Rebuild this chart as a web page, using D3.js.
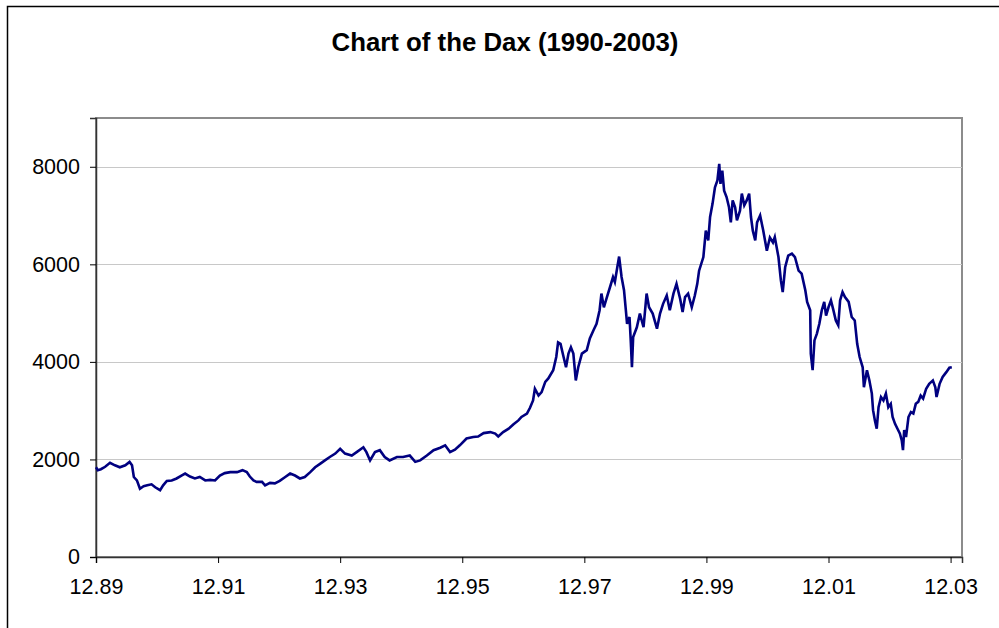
<!DOCTYPE html>
<html>
<head>
<meta charset="utf-8">
<script src="https://cdn.jsdelivr.net/npm/d3@7"></script>
<style>
  body { margin: 0; background: #fff; }
  svg text { font-family: "Liberation Sans", Arial, sans-serif; fill: #000; }
</style>
</head>
<body>
<div id="chart"></div>
<script>
// DATA (decimal year, DAX close)
const years = [
  1989.92, 1989.95, 1990.00, 1990.07, 1990.15, 1990.23, 1990.31, 1990.40, 1990.47, 1990.51,
  1990.54, 1990.59, 1990.64, 1990.70, 1990.76, 1990.83, 1990.89, 1990.97, 1991.02, 1991.08,
  1991.16, 1991.24, 1991.32, 1991.38, 1991.46, 1991.54, 1991.62, 1991.71, 1991.79, 1991.87,
  1991.95, 1992.03, 1992.12, 1992.23, 1992.32, 1992.39, 1992.44, 1992.50, 1992.55, 1992.64,
  1992.69, 1992.77, 1992.85, 1992.93, 1993.02, 1993.10, 1993.18, 1993.26, 1993.34, 1993.43,
  1993.51, 1993.59, 1993.67, 1993.75, 1993.84, 1993.92, 1994.00, 1994.11, 1994.19, 1994.30,
  1994.35, 1994.41, 1994.49, 1994.57, 1994.65, 1994.73, 1994.85, 1994.95, 1995.06, 1995.15,
  1995.23, 1995.34, 1995.45, 1995.56, 1995.64, 1995.72, 1995.80, 1995.88, 1995.99, 1996.10,
  1996.18, 1996.27, 1996.38, 1996.46, 1996.51, 1996.59, 1996.68, 1996.76, 1996.84, 1996.89,
  1996.98, 1997.03, 1997.08, 1997.11, 1997.17, 1997.22, 1997.28, 1997.33, 1997.41, 1997.46,
  1997.49, 1997.53, 1997.58, 1997.62, 1997.66, 1997.70, 1997.74, 1997.78, 1997.82, 1997.88,
  1997.96, 1998.01, 1998.07, 1998.12, 1998.17, 1998.20, 1998.24, 1998.29, 1998.34, 1998.39,
  1998.42, 1998.46, 1998.49, 1998.53, 1998.57, 1998.60, 1998.62, 1998.66, 1998.68, 1998.70,
  1998.72, 1998.78, 1998.83, 1998.89, 1998.94, 1998.98, 1999.04, 1999.11, 1999.16, 1999.21,
  1999.27, 1999.32, 1999.38, 1999.43, 1999.49, 1999.53, 1999.57, 1999.62, 1999.68, 1999.73,
  1999.77, 1999.80, 1999.87, 1999.91, 1999.95, 1999.98, 2000.02, 2000.06, 2000.10, 2000.13,
  2000.15, 2000.18, 2000.21, 2000.25, 2000.29, 2000.32, 2000.35, 2000.39, 2000.42, 2000.47,
  2000.50, 2000.54, 2000.58, 2000.62, 2000.65, 2000.68, 2000.72, 2000.75, 2000.80, 2000.85,
  2000.91, 2000.96, 2001.01, 2001.04, 2001.10, 2001.14, 2001.17, 2001.21, 2001.26, 2001.32,
  2001.37, 2001.43, 2001.48, 2001.54, 2001.57, 2001.62, 2001.63, 2001.66, 2001.69, 2001.73,
  2001.77, 2001.81, 2001.85, 2001.88, 2001.92, 2001.96, 2002.00, 2002.04, 2002.08, 2002.11,
  2002.15, 2002.19, 2002.25, 2002.30, 2002.35, 2002.39, 2002.43, 2002.48, 2002.50, 2002.55,
  2002.59, 2002.63, 2002.65, 2002.68, 2002.71, 2002.74, 2002.78, 2002.82, 2002.86, 2002.90,
  2002.94, 2002.97, 2003.01, 2003.05, 2003.09, 2003.12, 2003.14, 2003.16, 2003.19, 2003.23,
  2003.27, 2003.31, 2003.35, 2003.39, 2003.43, 2003.47, 2003.52, 2003.57, 2003.63, 2003.67,
  2003.69, 2003.74, 2003.79, 2003.85, 2003.90, 2003.94
];
const values = [
  1840, 1780, 1800, 1850, 1930, 1880, 1840, 1880, 1950, 1880,
  1640, 1570, 1400, 1450, 1470, 1490, 1430, 1370, 1470, 1560,
  1570, 1610, 1670, 1710, 1650, 1610, 1640, 1570, 1580, 1570,
  1670, 1720, 1740, 1740, 1780, 1740, 1650, 1570, 1540, 1540,
  1470, 1520, 1510, 1560, 1640, 1710, 1670, 1610, 1640, 1740,
  1840, 1910, 1980, 2050, 2120, 2220, 2120, 2080, 2150, 2250,
  2150, 1980, 2150, 2190, 2050, 1980, 2050, 2050, 2080, 1950,
  1980, 2080, 2190, 2240, 2290, 2150, 2200, 2290, 2430, 2460,
  2470, 2540, 2560, 2530, 2470, 2560, 2630, 2720, 2800, 2870,
  2940, 3060, 3210, 3450, 3310, 3380, 3590, 3660, 3830, 4100,
  4400, 4370, 4100, 3890, 4170, 4300, 4170, 3620, 3890, 4170,
  4240, 4480, 4650, 4780, 5060, 5400, 5120, 5330, 5530, 5740,
  5640, 5940, 6160, 5740, 5470, 5060, 4780, 4920, 4440, 3890,
  4510, 4710, 4990, 4710, 5400, 5120, 4990, 4680, 4990, 5190,
  5360, 5060, 5400, 5600, 5290, 5020, 5330, 5400, 5120, 5360,
  5600, 5870, 6150, 6690, 6490, 6970, 7240, 7580, 7720, 8060,
  7650, 7920, 7510, 7380, 7170, 6860, 7310, 7170, 6900, 7100,
  7450, 7210, 7310, 7450, 6970, 6690, 6490, 6860, 7000, 6700,
  6280, 6550, 6450, 6560, 6150, 5670, 5430, 5940, 6180, 6220,
  6150, 5870, 5810, 5470, 5230, 5060, 4170, 3830, 4440, 4580,
  4780, 5060, 5230, 4950, 5120, 5260, 5060, 4850, 4750, 5260,
  5430, 5330, 5230, 4920, 4850, 4370, 4100, 3890, 3480, 3830,
  3620, 3350, 3010, 2800, 2630, 3070, 3280, 3210, 3350, 3070,
  3140, 2870, 2730, 2630, 2530, 2390, 2190, 2600, 2460, 2870,
  2970, 2940, 3140, 3180, 3310, 3250, 3450, 3550, 3620, 3480,
  3280, 3550, 3690, 3790, 3880, 3890
];
const yTicks = [0, 2000, 4000, 6000, 8000];
const xTickYears = [1989.92, 1991.92, 1993.92, 1995.92, 1997.92, 1999.92, 2001.92, 2003.92];
const xTickLabels = ['12.89', '12.91', '12.93', '12.95', '12.97', '12.99', '12.01', '12.03'];
const title = 'Chart of the Dax (1990-2003)';

const data = years.map((y, i) => ({ year: y, value: values[i] }));

// DIMENSIONS
const width = 999, height = 628;
const plot = { left: 96, top: 118, right: 962, bottom: 557 };

// SVG
const svg = d3.select('#chart')
  .append('svg')
  .attr('width', width)
  .attr('height', height);

// OUTER CHART BORDER
svg.append('rect')
  .attr('x', 7.5)
  .attr('y', 6.5)
  .attr('width', 1000)
  .attr('height', 640)
  .attr('fill', '#fff')
  .attr('stroke', '#000')
  .attr('stroke-width', 1.5);

// TITLE
svg.append('text')
  .attr('x', 505)
  .attr('y', 51)
  .attr('text-anchor', 'middle')
  .style('font-size', '25.8px')
  .style('font-weight', 'bold')
  .text(title);

// SCALES
const xScale = d3.scaleLinear()
  .domain([1989.92, 2004.107])
  .range([plot.left, plot.right]);

const yScale = d3.scaleLinear()
  .domain([0, 9000])
  .range([plot.bottom, plot.top]);

// PLOT AREA FRAME
svg.append('rect')
  .attr('x', plot.left)
  .attr('y', plot.top)
  .attr('width', plot.right - plot.left)
  .attr('height', plot.bottom - plot.top)
  .attr('fill', '#fff')
  .attr('stroke', '#8c8c8c')
  .attr('stroke-width', 2);

// GRIDLINES
svg.append('g')
  .selectAll('line')
  .data(yTicks.filter(d => d > 0))
  .enter()
  .append('line')
  .attr('x1', plot.left)
  .attr('x2', plot.right)
  .attr('y1', d => Math.round(yScale(d)) + 0.5)
  .attr('y2', d => Math.round(yScale(d)) + 0.5)
  .attr('stroke', '#c8c8c8')
  .attr('stroke-width', 1);

// Y AXIS
const yAxis = svg.append('g')
  .attr('transform', `translate(${plot.left},0)`)
  .call(d3.axisLeft(yScale).tickValues(yTicks).tickSize(6).tickPadding(10).tickFormat(d3.format('d')));
yAxis.select('.domain').attr('stroke', '#333').attr('stroke-width', 1.5);
yAxis.selectAll('.tick line').attr('stroke', '#000');
yAxis.selectAll('text')
  .style('font-size', '21.5px')
  .style('font-family', '"Liberation Sans", Arial, sans-serif');

// X AXIS
const xAxis = svg.append('g')
  .attr('transform', `translate(0,${plot.bottom})`)
  .call(d3.axisBottom(xScale).tickValues(xTickYears).tickSize(6).tickPadding(16)
    .tickFormat((d, i) => xTickLabels[i]));
xAxis.select('.domain').attr('stroke', '#333').attr('stroke-width', 1.5);
xAxis.selectAll('.tick line').attr('stroke', '#000');
xAxis.selectAll('text')
  .style('font-size', '21.5px')
  .style('font-family', '"Liberation Sans", Arial, sans-serif');

// LINE
const line = d3.line()
  .x(d => xScale(d.year))
  .y(d => yScale(d.value));

svg.append('path')
  .datum(data)
  .attr('d', line)
  .attr('fill', 'none')
  .attr('stroke', '#000080')
  .attr('stroke-width', 2.6);
</script>
</body>
</html>
